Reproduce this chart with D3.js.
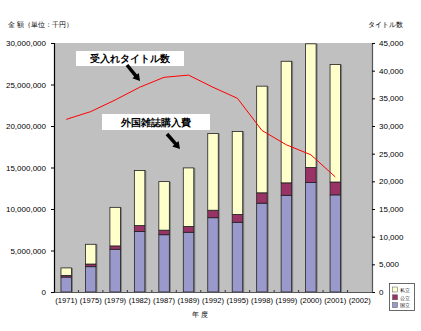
<!DOCTYPE html>
<html><head><meta charset="utf-8">
<script src="https://cdn.jsdelivr.net/npm/d3@7"></script>
<style>body{margin:0;background:#fff}svg{display:block}text{font-family:"Liberation Sans","DejaVu Sans",sans-serif}</style>
</head><body><div id="c"></div>
<script>
const years = ["(1971)","(1975)","(1979)","(1982)","(1987)","(1989)","(1992)","(1995)","(1998)","(1999)","(2000)","(2001)","(2002)"];
const national = [1800000,3050000,5150000,7300000,6900000,7200000,8950000,8400000,10700000,11650000,13200000,11700000,null];
const publicS  = [200000,320000,400000,700000,550000,700000,900000,950000,1250000,1500000,1800000,1550000,null];
const privateS = [900000,2380000,4650000,6650000,5850000,7050000,9250000,10000000,12850000,14650000,14900000,14150000,null];
const titles   = [31200,32600,34700,37000,38800,39200,37000,35000,29200,26600,24800,20800,null];
const leftTicks = [0,5000000,10000000,15000000,20000000,25000000,30000000];
const rightTicks = [0,5000,10000,15000,20000,25000,30000,35000,40000,45000];
const legendLabels = ["私立","公立","国立"];
const colors = {national:"#9999cc", public:"#993366", private:"#ffffcc"};

const W=421,H=331;
const svg=d3.select("#c").append("svg").attr("width",W).attr("height",H);
const L=54,R=372,T=43,B=292;
const x=d3.scaleBand().domain(years).range([L,R]).padding(0);
const y=d3.scaleLinear().domain([0,30000000]).range([B,T]);
const y2=d3.scaleLinear().domain([0,45000]).range([B,T]);

svg.append("rect").attr("x",L).attr("y",T).attr("width",R-L).attr("height",B-T).attr("fill","#c0c0c0");

const bw=10.5;
const stacks=years.map((yr,i)=>({yr,n:national[i],p:publicS[i],s:privateS[i]})).filter(d=>d.n!=null);
const g=svg.append("g");
stacks.forEach(d=>{
  const cx=x(d.yr)+x.bandwidth()/2;
  const segs=[[0,d.n,colors.national],[d.n,d.n+d.p,colors.public],[d.n+d.p,d.n+d.p+d.s,colors.private]];
  g.append("rect").attr("x",cx-bw/2+1.5).attr("y",y(d.n+d.p+d.s)).attr("width",bw).attr("height",B-y(d.n+d.p+d.s)).attr("fill","#808080");
  segs.forEach(s=>{
    g.append("rect").attr("x",cx-bw/2).attr("y",y(s[1])).attr("width",bw).attr("height",y(s[0])-y(s[1]))
     .attr("fill",s[2]).attr("stroke","#222").attr("stroke-width",0.8);
  });
});

const line=d3.line().defined(d=>d.v!=null).x(d=>x(d.yr)+x.bandwidth()/2).y(d=>y2(d.v));
svg.append("path").datum(years.map((yr,i)=>({yr,v:titles[i]}))).attr("d",line)
  .attr("fill","none").attr("stroke","#ff0000").attr("stroke-width",1);

const la=d3.axisLeft(y).tickValues(leftTicks).tickSize(3).tickFormat(d3.format(","));
const lg=svg.append("g").attr("transform",`translate(${L},0)`).call(la);
lg.select(".domain").attr("stroke","#000").attr("stroke-width",1.2);
lg.selectAll("text").attr("font-size",8).attr("x",-8).attr("fill","#000");
const ra=d3.axisRight(y2).tickValues(rightTicks).tickSize(3).tickFormat(d3.format(","));
const rg=svg.append("g").attr("transform",`translate(${R},0)`).call(ra);
rg.select(".domain").attr("stroke","#555").attr("stroke-width",1.2);
rg.selectAll("text").attr("font-size",8).attr("x",7).attr("text-anchor","start").attr("fill","#000");
const ba=d3.axisBottom(x).tickSize(0).tickPadding(6);
const bg=svg.append("g").attr("transform",`translate(0,${B})`).call(ba);
bg.select(".domain").attr("stroke","#555").attr("stroke-width",1.2);
bg.selectAll("text").attr("font-size",7.6).attr("fill","#000");
svg.append("g").selectAll("line").data(years.slice(1)).join("line")
  .attr("x1",d=>x(d)).attr("x2",d=>x(d)).attr("y1",B).attr("y2",B-2).attr("stroke","#333");

svg.append("text").attr("x",8).attr("y",27).attr("font-size",7).text("金 額（単位：千円）");
svg.append("text").attr("x",403).attr("y",27).attr("font-size",7).attr("text-anchor","end").text("タイトル数");
svg.append("text").attr("x",200).attr("y",317).attr("font-size",7).attr("text-anchor","middle").text("年 度");

function note(bx,by,bw2,bh,label,ax1,ay1,ax2,ay2){
  svg.append("rect").attr("x",bx).attr("y",by).attr("width",bw2).attr("height",bh).attr("fill","#fff");
  svg.append("text").attr("x",bx+bw2/2).attr("y",by+bh/2+3.5).attr("text-anchor","middle").attr("font-size",9.5).attr("font-weight","bold").text(label);
  const ang=Math.atan2(ay2-ay1,ax2-ax1);
  svg.append("line").attr("x1",ax1).attr("y1",ay1).attr("x2",ax2-6*Math.cos(ang)).attr("y2",ay2-6*Math.sin(ang)).attr("stroke","#000").attr("stroke-width",3.5);
  const hx=ax2,hy=ay2,s=7;
  const p=[[hx,hy],[hx-s*Math.cos(ang)+s*0.6*Math.sin(ang),hy-s*Math.sin(ang)-s*0.6*Math.cos(ang)],[hx-s*Math.cos(ang)-s*0.6*Math.sin(ang),hy-s*Math.sin(ang)+s*0.6*Math.cos(ang)]];
  svg.append("path").attr("d","M"+p.map(q=>q.join(",")).join("L")+"Z").attr("fill","#000");
}
note(76,51,108,15,"受入れタイトル数",127,65,140,81);
note(102,114,108,16,"外国雑誌購入費",167,134,180,149);

const lgG=svg.append("g");
lgG.append("rect").attr("x",389.5).attr("y",283.5).attr("width",25).attr("height",27).attr("fill","#fff").attr("stroke","#444").attr("stroke-width",0.8);
const lc=[colors.private,colors.public,colors.national];
legendLabels.forEach((t,i)=>{
  lgG.append("rect").attr("x",392.5).attr("y",287+i*7.8).attr("width",5).attr("height",5).attr("fill",lc[i]).attr("stroke","#555").attr("stroke-width",0.5);
  lgG.append("text").attr("x",400).attr("y",291.7+i*7.8).attr("font-size",5.3).text(t);
});
</script></body></html>
